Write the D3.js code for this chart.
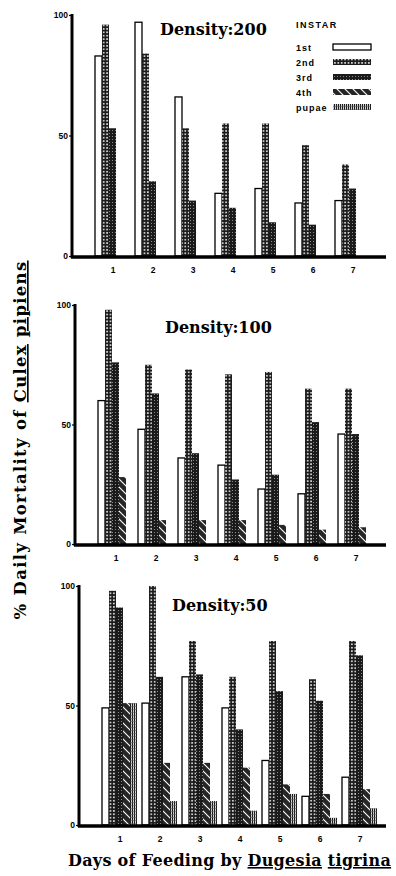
<!DOCTYPE html>
<html>
<head>
<meta charset="utf-8">
<script src="https://cdn.jsdelivr.net/npm/d3@7"></script>
<style>
  body { margin: 0; background: #fff; }
  svg { display: block; }
  .tick text { font-family: "Liberation Sans", Arial, sans-serif; font-weight: bold; font-size: 8.5px; }
</style>
</head>
<body>
<div id="chart"></div>
<script>
// Days of feeding and instar categories
const days = [1, 2, 3, 4, 5, 6, 7];
const instars = ['1st', '2nd', '3rd', '4th', 'pupae'];
const yTicks = [0, 50, 100];

// % daily mortality, one array per instar, per density
const d200_1st = [83, 97, 66, 26, 28, 22, 23];
const d200_2nd = [96, 84, 53, 55, 55, 46, 38];
const d200_3rd = [53, 31, 23, 20, 14, 13, 28];
const d200_4th = [0, 0, 0, 0, 0, 0, 0];
const d200_pup = [0, 0, 0, 0, 0, 0, 0];

const d100_1st = [60, 48, 36, 33, 23, 21, 46];
const d100_2nd = [98, 75, 73, 71, 72, 65, 65];
const d100_3rd = [76, 63, 38, 27, 29, 51, 46];
const d100_4th = [28, 10, 10, 10, 8, 6, 7];
const d100_pup = [0, 0, 0, 0, 0, 0, 0];

const d50_1st = [49, 51, 62, 49, 27, 12, 20];
const d50_2nd = [98, 100, 77, 62, 77, 61, 77];
const d50_3rd = [91, 62, 63, 40, 56, 52, 71];
const d50_4th = [51, 26, 26, 24, 17, 13, 15];
const d50_pup = [51, 10, 10, 6, 13, 3, 7];

const densities = ['Density:200', 'Density:100', 'Density:50'];
const densityData = [
  [d200_1st, d200_2nd, d200_3rd, d200_4th, d200_pup],
  [d100_1st, d100_2nd, d100_3rd, d100_4th, d100_pup],
  [d50_1st, d50_2nd, d50_3rd, d50_4th, d50_pup]
];

// panel placement
const panels = [
  { left: 72, top: 15, bottom: 256, title: [160, 35] },
  { left: 75, top: 305, bottom: 544, title: [165, 333] },
  { left: 79, top: 586, bottom: 825, title: [172, 611] }
];
const axisRight = 386;

const W = 396, H = 876;
const svg = d3.select('#chart').append('svg').attr('width', W).attr('height', H);

// fill patterns imitating the print textures
const defs = svg.append('defs');

const p2 = defs.append('pattern').attr('id', 'p2nd').attr('patternUnits', 'userSpaceOnUse')
  .attr('width', 3.4).attr('height', 3.4);
p2.append('rect').attr('width', 3.4).attr('height', 3.4).attr('fill', '#1c1c1c');
p2.append('circle').attr('cx', 1.7).attr('cy', 1.7).attr('r', 0.95).attr('fill', '#f2f2f2');

const p3 = defs.append('pattern').attr('id', 'p3rd').attr('patternUnits', 'userSpaceOnUse')
  .attr('width', 3).attr('height', 3);
p3.append('rect').attr('width', 3).attr('height', 3).attr('fill', '#1a1a1a');
p3.append('rect').attr('x', 1).attr('y', 1).attr('width', 1).attr('height', 1).attr('fill', '#8a8a8a');

const p4 = defs.append('pattern').attr('id', 'p4th').attr('patternUnits', 'userSpaceOnUse')
  .attr('width', 8).attr('height', 8);
p4.append('rect').attr('width', 8).attr('height', 8).attr('fill', '#262626');
p4.append('path').attr('d', 'M0,0 L8,8 M-2,6 L2,10 M6,-2 L10,2')
  .attr('stroke', '#fff').attr('stroke-width', 1.1);

const p5 = defs.append('pattern').attr('id', 'ppup').attr('patternUnits', 'userSpaceOnUse')
  .attr('width', 2).attr('height', 3);
p5.append('rect').attr('width', 2).attr('height', 3).attr('fill', '#fff');
p5.append('rect').attr('width', 1.2).attr('height', 3).attr('fill', '#1a1a1a');
p5.append('rect').attr('y', 1).attr('width', 2).attr('height', 0.5).attr('fill', '#555');

const fills = { '1st': '#fff', '2nd': 'url(#p2nd)', '3rd': 'url(#p3rd)', '4th': 'url(#p4th)', 'pupae': 'url(#ppup)' };

const instarX = d3.scaleBand().domain(instars).range([-18, 17]).padding(0);

panels.forEach((p, i) => {
  const g = svg.append('g');
  const firstCenter = p.left + 41;
  const x = d3.scaleBand().domain(days).range([firstCenter - 20, firstCenter - 20 + 280]);
  const y = d3.scaleLinear().domain([0, 100]).range([p.bottom, p.top]);

  // bars
  const series = densityData[i];
  instars.forEach((ins, k) => {
    g.append('g').selectAll('rect')
      .data(days.map((d, j) => ({ day: d, v: series[k][j] })).filter(d => d.v > 0))
      .join('rect')
      .attr('x', d => x(d.day) + x.bandwidth() / 2 + instarX(ins))
      .attr('y', d => y(d.v))
      .attr('width', instarX.bandwidth())
      .attr('height', d => y(0) - y(d.v))
      .attr('fill', fills[ins])
      .attr('stroke', ins === '1st' ? '#000' : 'none')
      .attr('stroke-width', 1.3);
  });

  // y axis
  const yAxis = g.append('g').attr('transform', `translate(${p.left},0)`)
    .call(d3.axisLeft(y).tickValues(yTicks).tickSize(3).tickPadding(1));
  yAxis.select('.domain').remove();
  yAxis.selectAll('.tick line').attr('stroke', '#000').attr('stroke-width', 1.2);
  g.append('line').attr('x1', p.left).attr('x2', p.left)
    .attr('y1', p.top - 1).attr('y2', p.bottom + 2)
    .attr('stroke', '#000').attr('stroke-width', 3);

  // x axis
  g.append('line').attr('x1', p.left - 1).attr('x2', axisRight)
    .attr('y1', p.bottom + 1).attr('y2', p.bottom + 1)
    .attr('stroke', '#000').attr('stroke-width', 3.5);
  g.append('g').selectAll('text').data(days).join('text')
    .attr('x', d => x(d) + x.bandwidth() / 2)
    .attr('y', p.bottom + 17)
    .attr('text-anchor', 'middle')
    .style('font-family', '"Liberation Sans", Arial, sans-serif')
    .style('font-weight', 'bold').style('font-size', '8.5px')
    .text(d => d);

  // panel title
  g.append('text').attr('x', p.title[0]).attr('y', p.title[1])
    .style('font-family', '"DejaVu Serif", serif').style('font-weight', 'bold')
    .style('font-size', '16px')
    .text(densities[i]);
});

// legend
const lg = svg.append('g').style('font-family', '"Liberation Sans", Arial, sans-serif')
  .style('font-weight', 'bold').style('font-size', '9px');
lg.append('text').attr('x', 296).attr('y', 28).attr('letter-spacing', '1.5px').text('INSTAR');
const legendY = d3.scalePoint().domain(instars).range([47, 107]);
instars.forEach(ins => {
  lg.append('text').attr('x', 296).attr('y', legendY(ins) + 3.5).attr('letter-spacing', '1px').text(ins);
  lg.append('rect').attr('x', 333).attr('y', legendY(ins) - 3).attr('width', 38).attr('height', 6)
    .attr('fill', fills[ins])
    .attr('stroke', ins === '1st' ? '#000' : 'none').attr('stroke-width', 1.3);
});

// axis titles
const yTitle = svg.append('text')
  .attr('transform', 'translate(26,440) rotate(-90)')
  .attr('text-anchor', 'middle')
  .attr('letter-spacing', '1.3px')
  .style('font-family', '"DejaVu Serif", serif').style('font-weight', 'bold').style('font-size', '16.5px');
yTitle.append('tspan').text('% Daily Mortality of ');
yTitle.append('tspan').style('text-decoration', 'underline').text('Culex');
yTitle.append('tspan').text(' ');
yTitle.append('tspan').style('text-decoration', 'underline').text('pipiens');

const xTitle = svg.append('text').attr('x', 68).attr('y', 866)
  .attr('letter-spacing', '0.3px')
  .style('font-family', '"DejaVu Serif", serif').style('font-weight', 'bold').style('font-size', '16px');
xTitle.append('tspan').text('Days of Feeding by ');
xTitle.append('tspan').style('text-decoration', 'underline').text('Dugesia');
xTitle.append('tspan').text(' ');
xTitle.append('tspan').style('text-decoration', 'underline').text('tigrina');
</script>
</body>
</html>
